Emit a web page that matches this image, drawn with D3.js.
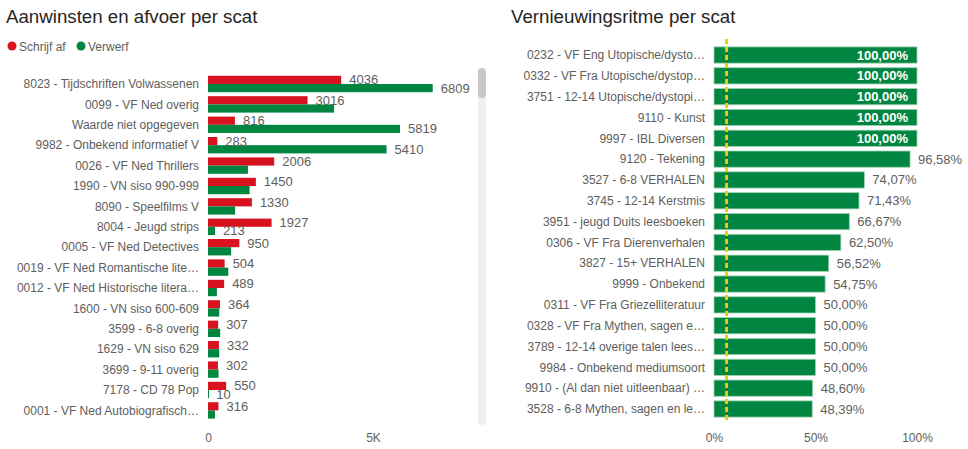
<!DOCTYPE html>
<html>
<head>
<meta charset="utf-8">
<script src="https://cdn.jsdelivr.net/npm/d3@7"></script>
<style>
  html, body { margin: 0; padding: 0; background: #fff; }
  svg { display: block; font-family: "Segoe UI", "Liberation Sans", Arial, sans-serif; }
</style>
</head>
<body>
<svg id="chart" width="968" height="449"></svg>
<script>
// Left chart data
const scats = [
  "8023 - Tijdschriften Volwassenen", "0099 - VF Ned overig", "Waarde niet opgegeven",
  "9982 - Onbekend informatief V", "0026 - VF Ned Thrillers", "1990 - VN siso 990-999",
  "8090 - Speelfilms V", "8004 - Jeugd strips", "0005 - VF Ned Detectives",
  "0019 - VF Ned Romantische lite…", "0012 - VF Ned Historische litera…", "1600 - VN siso 600-609",
  "3599 - 6-8 overig", "1629 - VN siso 629", "3699 - 9-11 overig",
  "7178 - CD 78 Pop", "0001 - VF Ned Autobiografisch…"
];
const schrijfAf = [4036, 3016, 816, 283, 2006, 1450, 1330, 1927, 950, 504, 489, 364, 307, 332, 302, 550, 316];
const verwerf   = [6809, 3820, 5819, 5410, 1210, 1260, 820, 213, 700, 615, 270, 340, 370, 340, 320, 10, 210];
const leftTicks = [0, 5000];

// Right chart data
const ritmeScats = [
  "0232 - VF Eng Utopische/dysto…", "0332 - VF Fra Utopische/dystop…", "3751 - 12-14 Utopische/dystopi…",
  "9110 - Kunst", "9997 - IBL Diversen", "9120 - Tekening", "3527 - 6-8 VERHALEN",
  "3745 - 12-14 Kerstmis", "3951 - jeugd Duits leesboeken", "0306 - VF Fra Dierenverhalen",
  "3827 - 15+ VERHALEN", "9999 - Onbekend", "0311 - VF Fra Griezelliteratuur",
  "0328 - VF Fra Mythen, sagen e…", "3789 - 12-14 overige talen lees…", "9984 - Onbekend mediumsoort",
  "9910 - (Al dan niet uitleenbaar) …", "3528 - 6-8 Mythen, sagen en le…"
];
const ritme = [1, 1, 1, 1, 1, 0.9658, 0.7407, 0.7143, 0.6667, 0.625, 0.5652, 0.5475, 0.5, 0.5, 0.5, 0.5, 0.486, 0.4839];
const ritmeRef = 0.062;
const rightTicks = [0, 0.5, 1];

const RED = "#d9121f", GREEN = "#008641";
const TXT = "#605e5c", TITLE = "#252423";

const svg = d3.select("#chart");

// ---------- Left chart ----------
svg.append("text").attr("x", 6).attr("y", 23)
  .attr("font-size", 18.7).attr("fill", TITLE).text("Aanwinsten en afvoer per scat");

const legend = [["Schrijf af", RED, 12], ["Verwerf", GREEN, 81]];
legend.forEach(([name, col, lx]) => {
  svg.append("circle").attr("cx", lx).attr("cy", 46).attr("r", 4.5).attr("fill", col);
  svg.append("text").attr("x", lx + 7).attr("y", 50.5).attr("font-size", 12)
    .attr("fill", TXT).text(name);
});

const xL = d3.scaleLinear().domain([0, 5000]).range([208, 373]);
const yL = d3.scaleBand().domain(scats).range([73.8, 420.6]);
const sub = d3.scaleBand().domain(["a", "v"]).range([-8.2, 8.2]);

const gL = svg.append("g");
scats.forEach((s, i) => {
  const cy = yL(s) + yL.bandwidth() / 2;
  gL.append("text").attr("x", 199).attr("y", cy).attr("dy", "0.35em")
    .attr("text-anchor", "end").attr("font-size", 12).attr("fill", TXT).text(s);

  const ya = cy + sub("a"), yv = cy + sub("v");
  gL.append("rect").attr("x", xL(0)).attr("y", ya).attr("width", xL(schrijfAf[i]) - xL(0))
    .attr("height", sub.bandwidth()).attr("fill", RED);
  gL.append("rect").attr("x", xL(0)).attr("y", yv).attr("width", Math.max(1, xL(verwerf[i]) - xL(0)))
    .attr("height", sub.bandwidth()).attr("fill", GREEN);

  const ra = xL(schrijfAf[i]) + 8, rv = xL(verwerf[i]) + 8;
  const la = gL.append("text").attr("x", ra).attr("y", ya + sub.bandwidth() / 2).attr("dy", "0.35em")
    .attr("font-size", 13).attr("fill", TXT).text(schrijfAf[i]);
  const wa = la.node().getComputedTextLength();
  const tv = String(verwerf[i]);
  const wv = tv.length * 7.3;
  // hide the green label when it collides with the red one
  if (rv + wv < ra - 2 || rv > ra + wa + 2) {
    gL.append("text").attr("x", rv).attr("y", yv + sub.bandwidth() / 2).attr("dy", "0.35em")
      .attr("font-size", 13).attr("fill", TXT).text(tv);
  }
});

svg.append("g").attr("transform", "translate(0,433)")
  .call(d3.axisBottom(xL).tickValues(leftTicks).tickSize(0).tickPadding(0)
    .tickFormat(d => d === 0 ? "0" : d3.format(".0s")(d).replace("k", "K")))
  .call(g => g.select(".domain").remove())
  .call(g => g.selectAll("text").attr("font-size", 12).attr("fill", TXT)
    .attr("font-family", null));

// scrollbar
svg.append("rect").attr("x", 478).attr("y", 68).attr("width", 8).attr("height", 357)
  .attr("rx", 4).attr("fill", "#f0f0f0");
svg.append("rect").attr("x", 478).attr("y", 68).attr("width", 8).attr("height", 30)
  .attr("rx", 4).attr("fill", "#c8c8c8");

// ---------- Right chart ----------
svg.append("text").attr("x", 511).attr("y", 23)
  .attr("font-size", 18.7).attr("fill", TITLE).text("Vernieuwingsritme per scat");

const xR = d3.scaleLinear().domain([0, 1]).range([714, 917]);
const yR = d3.scaleBand().domain(ritmeScats).range([44.6, 419.4]).paddingInner(0.22).paddingOuter(0.11);
const pct = d3.format(".2f");
const fmtPct = v => pct(v * 100).replace(".", ",") + "%";

const gR = svg.append("g");
ritmeScats.forEach((s, i) => {
  const cy = yR(s) + yR.bandwidth() / 2;
  gR.append("text").attr("x", 705).attr("y", cy).attr("dy", "0.35em")
    .attr("text-anchor", "end").attr("font-size", 12).attr("fill", TXT).text(s);
  gR.append("rect").attr("x", xR(0)).attr("y", yR(s)).attr("width", xR(ritme[i]) - xR(0))
    .attr("height", yR.bandwidth()).attr("fill", GREEN)
    .attr("stroke", "#9fd3b3").attr("stroke-width", 0.8);
  const inside = ritme[i] >= 0.99;
  gR.append("text")
    .attr("x", inside ? xR(ritme[i]) - 9 : xR(ritme[i]) + 8)
    .attr("y", cy).attr("dy", "0.35em")
    .attr("text-anchor", inside ? "end" : "start")
    .attr("font-size", 13)
    .attr("font-weight", inside ? "bold" : null)
    .attr("fill", inside ? "#fff" : TXT)
    .text(fmtPct(ritme[i]));
});

svg.append("line").attr("x1", xR(ritmeRef)).attr("x2", xR(ritmeRef))
  .attr("y1", 39).attr("y2", 423)
  .attr("stroke", "#f2c80f").attr("stroke-width", 3).attr("stroke-dasharray", "5,3");

svg.append("g").attr("transform", "translate(0,433)")
  .call(d3.axisBottom(xR).tickValues(rightTicks).tickSize(0).tickPadding(0)
    .tickFormat(d => Math.round(d * 100) + "%"))
  .call(g => g.select(".domain").remove())
  .call(g => g.selectAll("text").attr("font-size", 12).attr("fill", TXT)
    .attr("font-family", null));
</script>
</body>
</html>
